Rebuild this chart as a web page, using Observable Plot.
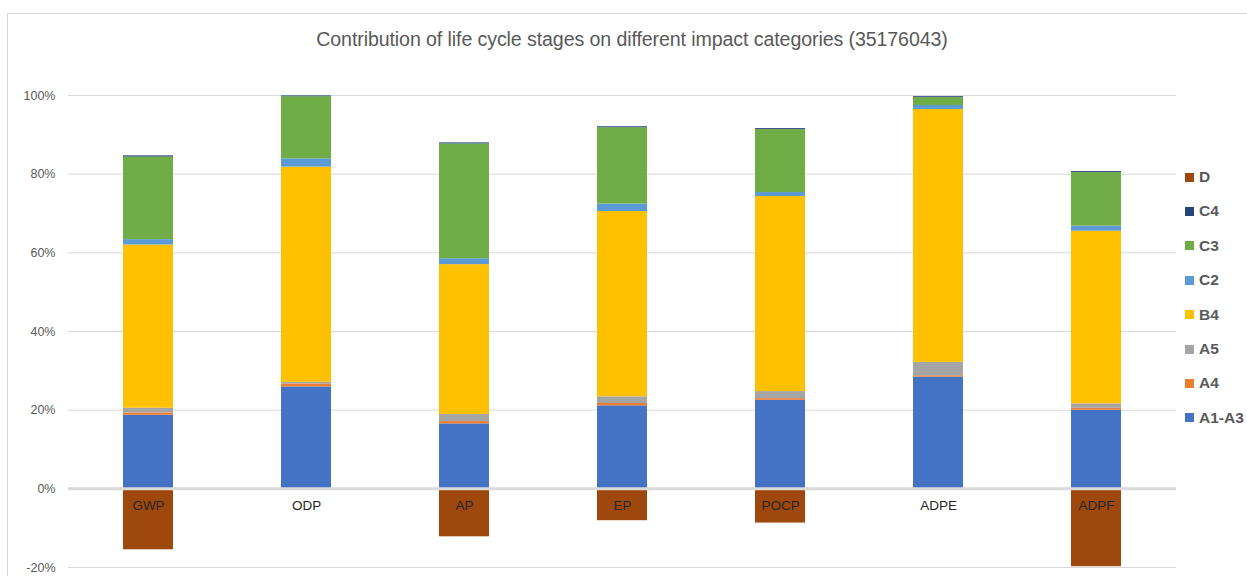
<!DOCTYPE html>
<html>
<head>
<meta charset="utf-8">
<script src="https://cdn.jsdelivr.net/npm/d3@7"></script>
<script src="https://cdn.jsdelivr.net/npm/@observablehq/plot@0.6"></script>
<style>
  html, body { margin: 0; padding: 0; background: #fff; }
  #wrap { position: relative; width: 1247px; height: 576px; overflow: hidden; font-family: "Liberation Sans", Arial, sans-serif; }
  #border { position: absolute; left: 7px; top: 13px; width: 2000px; height: 2000px; border-left: 1px solid #d9d9d9; border-top: 1px solid #d9d9d9; box-sizing: border-box; }
  #title { position: absolute; left: 0; width: 1264px; top: 28px; text-align: center; font-size: 19.6px; color: #595959; letter-spacing: -0.1px; }
  #legend { position: absolute; left: 1185px; top: 167px; }
  .li { position: absolute; left: 0; height: 20px; display: flex; align-items: center; white-space: nowrap; font-size: 15.5px; font-weight: bold; color: #595959; }
  .sw { width: 9px; height: 9px; margin-right: 5px; }
  #chart { position: absolute; left: 0; top: 0; }
</style>
</head>
<body>
<div id="wrap">
  <div id="border"></div>
  <div id="chart"></div>
  <div id="title">Contribution of life cycle stages on different impact categories (35176043)</div>
  <div id="legend"></div>
</div>
<script>
const categories = ["GWP", "ODP", "AP", "EP", "POCP", "ADPE", "ADPF"];
const stages = ["A1-A3", "A4", "A5", "B4", "C2", "C3", "C4", "D"];
const colors = ["#4472C4", "#ED7D31", "#A5A5A5", "#FFC000", "#5B9BD5", "#70AD47", "#264478", "#9E480E"];

// values in percent, per stage, in category order
const A1_A3 = [18.7, 25.9, 16.5, 21.1, 22.5, 28.4, 20.0];
const A4    = [0.6, 0.76, 0.6, 0.6, 0.43, 0.35, 0.5];
const A5    = [1.2, 0.43, 1.8, 1.7, 1.8, 3.4, 1.1];
const B4    = [41.5, 54.7, 38.1, 47.1, 49.6, 64.3, 43.9];
const C2    = [1.35, 2.1, 1.5, 1.9, 1.0, 1.0, 1.3];
const C3    = [21.0, 15.8, 29.2, 19.4, 16.0, 2.0, 13.6];
const C4    = [0.3, 0.2, 0.25, 0.25, 0.25, 0.25, 0.25];
const D     = [-15.5, -0.05, -12.2, -8.1, -8.7, -0.4, -19.8];

const yTicks = [-20, 0, 20, 40, 60, 80, 100];

const series = [A1_A3, A4, A5, B4, C2, C3, C4, D];
const data = [];
stages.forEach((s, i) => {
  categories.forEach((c, j) => {
    data.push({ cat: c, stage: s, value: series[i][j] / 100 });
  });
});

const plot = Plot.plot({
  width: 1247,
  height: 576,
  marginLeft: 68,
  marginRight: 71,
  marginTop: 95,
  marginBottom: 9,
  style: { fontFamily: "Liberation Sans, Arial, sans-serif", background: "transparent" },
  x: { domain: categories, paddingInner: 0.685, paddingOuter: 0.3425, axis: null },
  y: { domain: [-0.2, 1.0], ticks: yTicks.map(d => d / 100), tickFormat: d => Math.round(d * 100) + "%", tickSize: 0, tickPadding: 13, label: null },
  color: { domain: stages, range: colors },
  marks: [
    Plot.gridY(yTicks.map(d => d / 100), { stroke: "#d9d9d9", strokeOpacity: 1, strokeWidth: 1 }),
    Plot.axisY(yTicks.map(d => d / 100), { tickFormat: d => Math.round(d * 100) + "%", tickSize: 0, tickPadding: 13, fontSize: 12.5, fill: "#595959", label: null }),
    Plot.barY(data, { x: "cat", y: "value", fill: "stage", order: stages }),
    Plot.ruleY([0], { stroke: "#d9d9d9", strokeWidth: 3 }),
    Plot.text(categories, { x: d => d, y: () => 0, dy: 17, text: d => d, fill: "#262626", fontSize: 13.5 })
  ]
});
document.getElementById("chart").appendChild(plot);

const legend = document.getElementById("legend");
const legendOrder = stages.slice().reverse();
legendOrder.forEach((s, i) => {
  const el = document.createElement("div");
  el.className = "li";
  el.style.top = (i * 34.4) + "px";
  const sw = document.createElement("div");
  sw.className = "sw";
  sw.style.background = colors[stages.indexOf(s)];
  el.appendChild(sw);
  const t = document.createElement("span");
  t.textContent = s;
  el.appendChild(t);
  legend.appendChild(el);
});
</script>
</body>
</html>
